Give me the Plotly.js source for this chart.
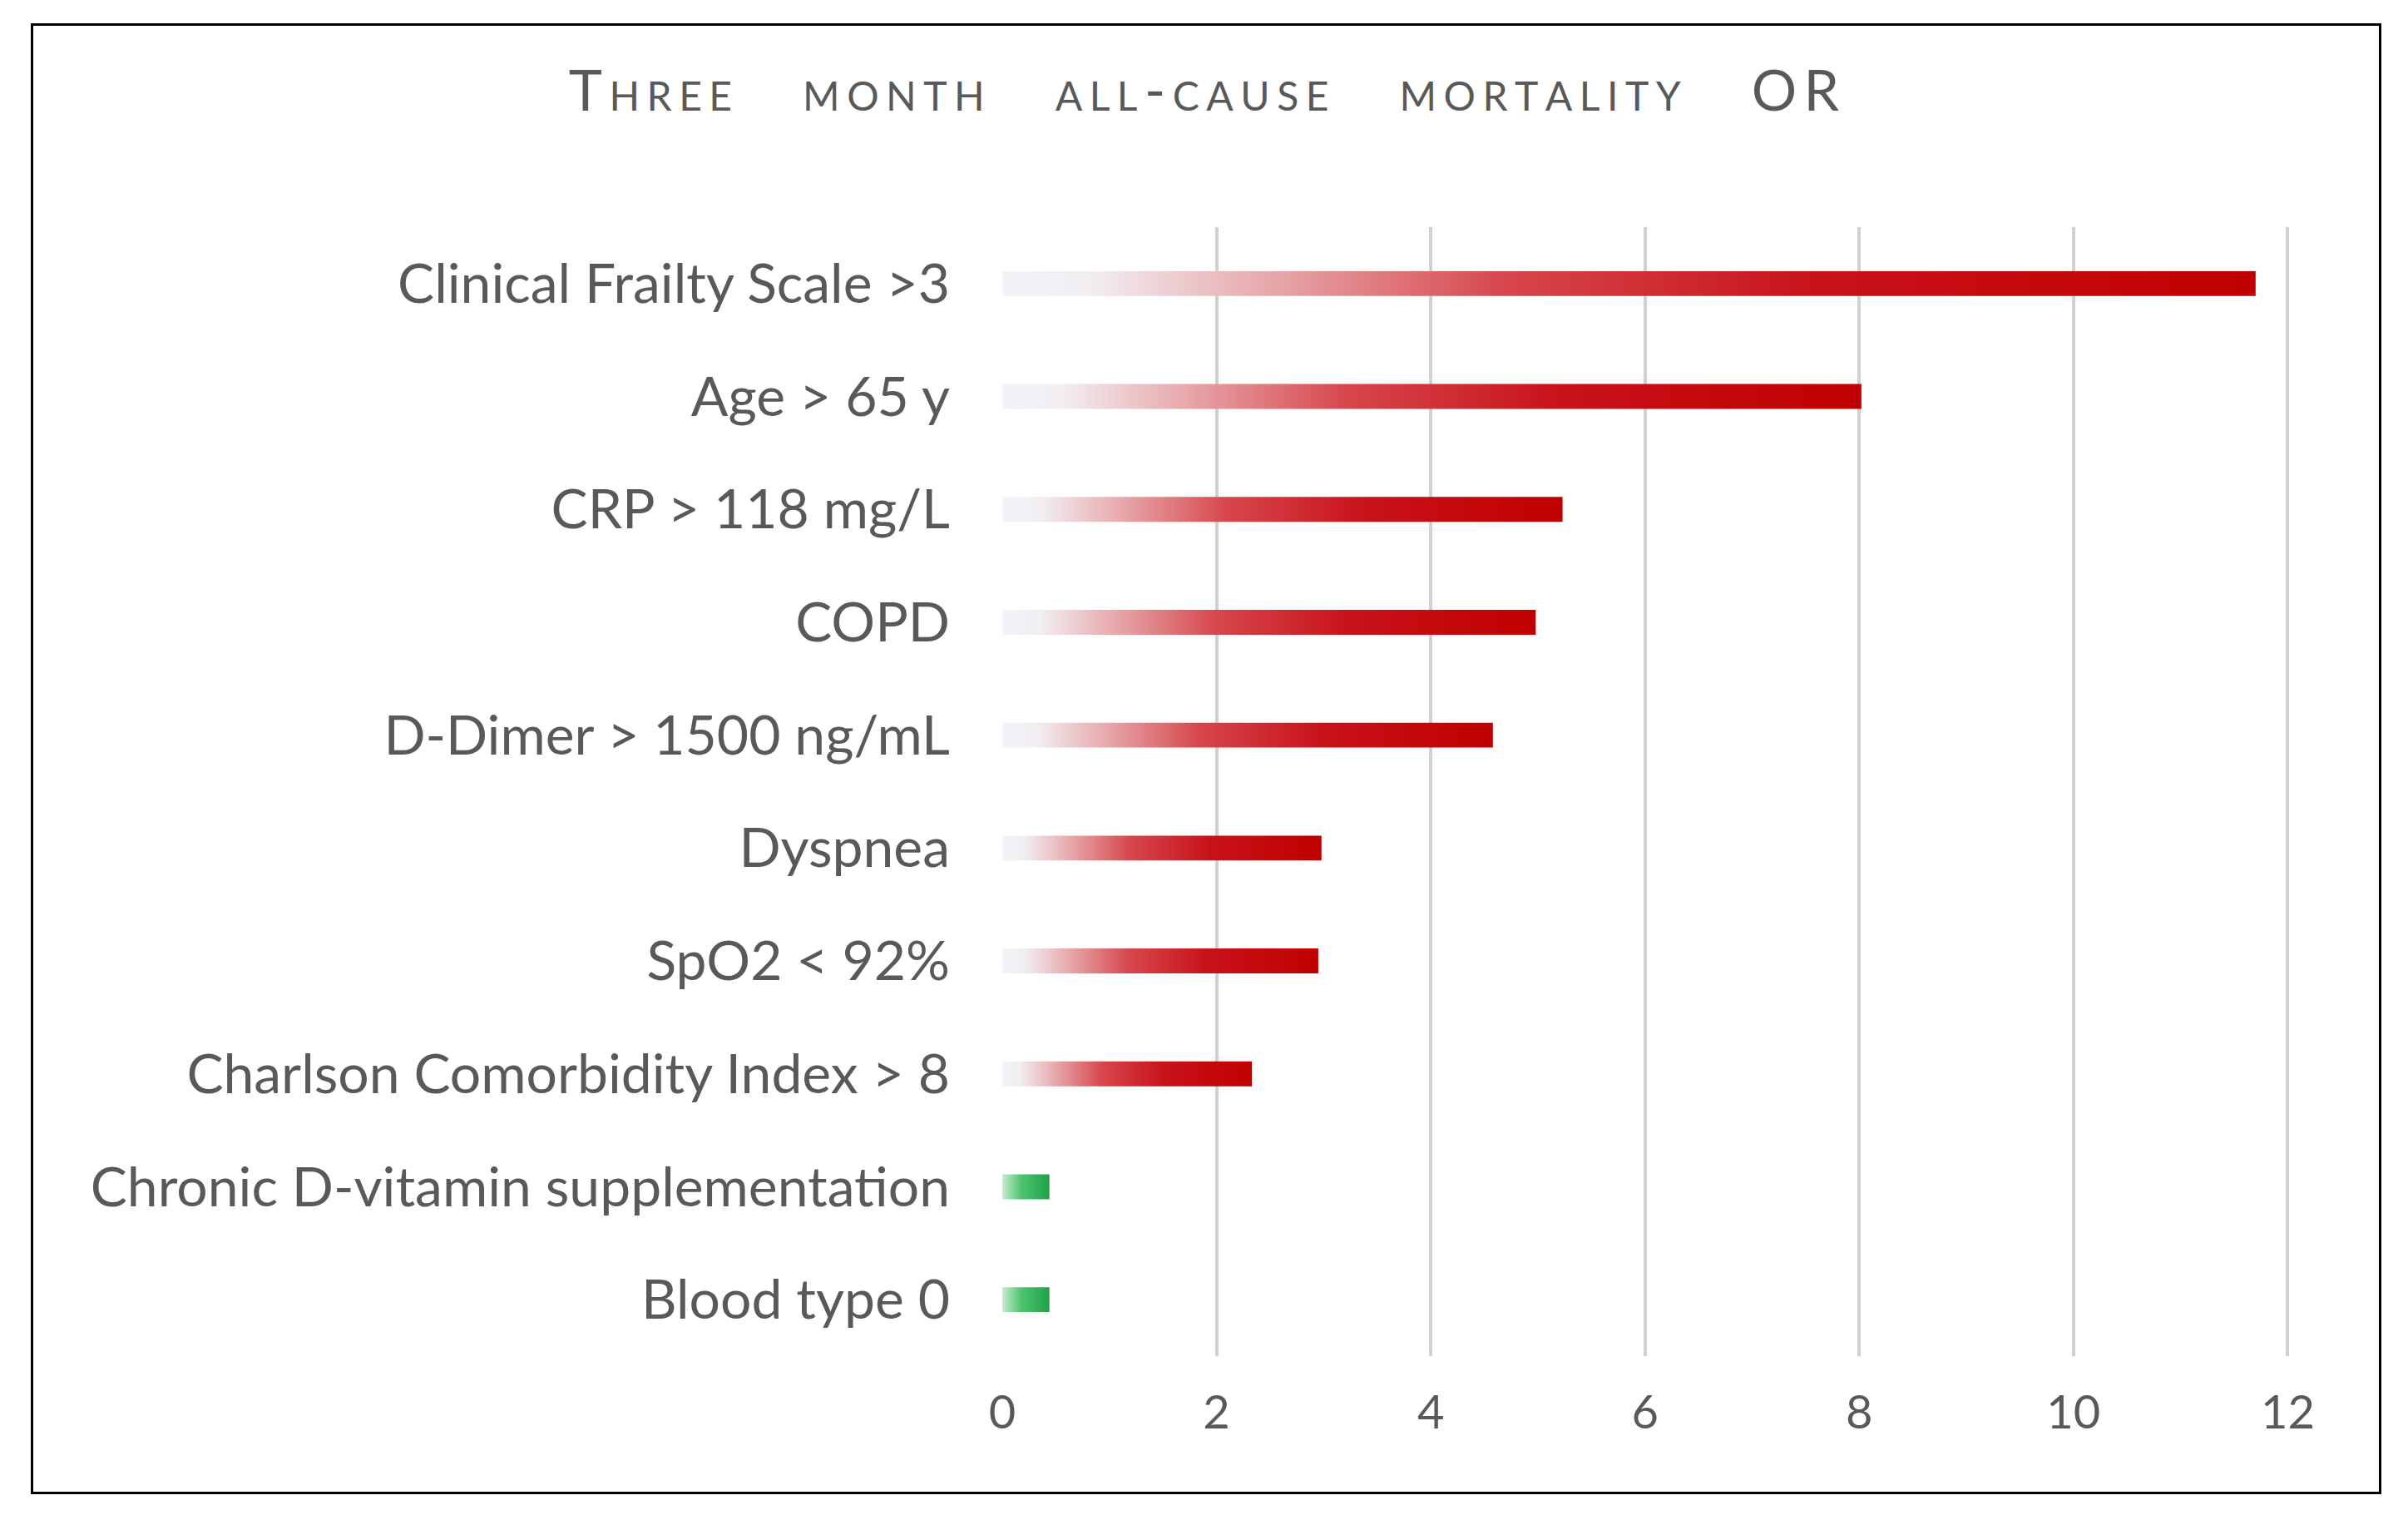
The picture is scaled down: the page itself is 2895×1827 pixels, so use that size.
<!DOCTYPE html>
<html>
<head>
<meta charset="utf-8">
<script src="https://cdn.plot.ly/plotly-3.0.1.min.js"></script>
<style>
  body { margin: 0; background: #fff; }
  #frame { position: absolute; left: 37px; top: 28px; width: 2826px; height: 1768px; border: 3px solid #000; box-sizing: border-box; pointer-events: none; }
  #chart { width: 2895px; height: 1827px; }
</style>
</head>
<body>
<div id="chart"></div>
<div id="frame"></div>
<script>
// odds ratios
var factors = ['Clinical Frailty Scale >3', 'Age > 65 y', 'CRP > 118 mg/L', 'COPD',
  'D-Dimer > 1500 ng/mL', 'Dyspnea', 'SpO2 < 92%', 'Charlson Comorbidity Index > 8',
  'Chronic D-vitamin supplementation', 'Blood type 0'];
var oddsRatio = [11.7, 8.02, 5.23, 4.98, 4.58, 2.98, 2.95, 2.33, 0.44, 0.44];
var xTicks = [0, 2, 4, 6, 8, 10, 12];

var redScale = [[0, '#f1f3f9'], [0.07, '#f2eef1'], [0.22, '#e6a5a8'], [0.4, '#d6474c'], [0.65, '#c8121a'], [1, '#c00000']];
var greenScale = [[0, '#c8ecd2'], [0.4, '#4fc46f'], [1, '#1fa04a']];
var half = 0.11;

var traces = factors.map(function(name, i){
  var v = oddsRatio[i];
  return {
    x: [0, v, v, 0, 0],
    y: [i - half, i - half, i + half, i + half, i - half],
    mode: 'lines', line: {width: 0}, fill: 'toself',
    fillgradient: {type: 'horizontal', colorscale: v < 1 ? greenScale : redScale},
    hoverinfo: 'skip', showlegend: false, name: name
  };
});

function spaced(s){ return s.split('').join('\u2009'); }
var titleText = ['Three', 'month', 'all-cause', 'mortality', 'OR'].map(spaced).join('\u2003\u2002');

var layout = {
  width: 2895, height: 1827,
  margin: {l: 1205, r: 142, t: 273, b: 197},
  paper_bgcolor: '#fff', plot_bgcolor: '#fff',
  font: {family: 'Lato, "Open Sans", sans-serif', color: '#595959', size: 66},
  title: {
    text: titleText,
    font: {size: 68, color: '#595959', variant: 'small-caps'},
    x: 0.5, xref: 'container', xanchor: 'center', y: 0.94, yref: 'container', yanchor: 'middle'
  },
  xaxis: {
    range: [0, 12.02], tickvals: xTicks, ticktext: xTicks.map(String),
    showgrid: true, gridcolor: '#d0d0d0', gridwidth: 4,
    zeroline: false, showline: false, ticks: '', ticklabelstandoff: 30,
    tickfont: {size: 56, color: '#595959'}
  },
  yaxis: {
    range: [9.5, -0.5], tickvals: factors.map(function(f, i){ return i; }), ticktext: factors,
    showgrid: false, zeroline: false, showline: false, ticks: '', ticklabelstandoff: 62,
    tickfont: {size: 66, color: '#595959'}
  }
};

Plotly.newPlot('chart', traces, layout, {staticPlot: true});
</script>
</body>
</html>
